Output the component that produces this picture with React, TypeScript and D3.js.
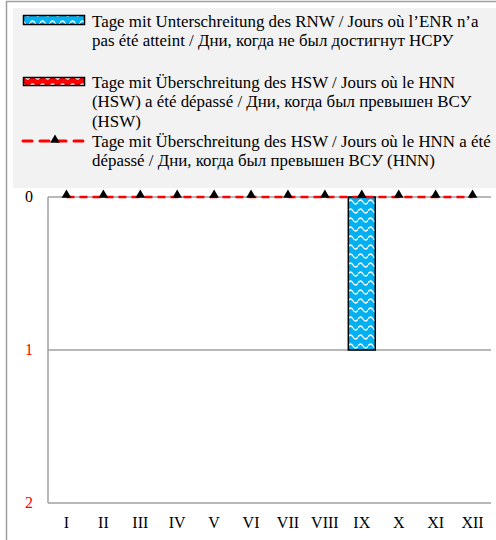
import React, { useEffect, useRef } from 'react';
import * as d3 from 'd3';

const months = ['I', 'II', 'III', 'IV', 'V', 'VI', 'VII', 'VIII', 'IX', 'X', 'XI', 'XII'];
const rnwDays = [0, 0, 0, 0, 0, 0, 0, 0, 1, 0, 0, 0];
const hswDays = [0, 0, 0, 0, 0, 0, 0, 0, 0, 0, 0, 0];
const hnnDays = [0, 0, 0, 0, 0, 0, 0, 0, 0, 0, 0, 0];
const yTicks = [0, 1, 2];
const yTickColors = ['#000', '#ff0000', '#ff0000'];

const legendRnw = ['Tage mit Unterschreitung des RNW / Jours où l’ENR n’a', 'pas été atteint / Дни, когда не был достигнут НСРУ'];
const legendHsw = ['Tage mit Überschreitung des HSW / Jours où le HNN', '(HSW) a été dépassé / Дни, когда был превышен ВСУ', '(HSW)'];
const legendHnn = ['Tage mit Überschreitung des HSW / Jours où le HNN a été', 'dépassé / Дни, когда был превышен ВСУ (HNN)'];

const FONT = 'Liberation Serif';

const App = () => {
  const svgRef = useRef(null);

  useEffect(() => {
    const W = 496;
    const H = 540;
    const margin = { top: 197, right: 5, bottom: 37, left: 48 };
    const width = W - margin.left - margin.right;
    const height = H - margin.top - margin.bottom;

    const svg = d3.select(svgRef.current).attr('width', W).attr('height', H);
    svg.selectAll('*').remove();

    // patterns
    const defs = svg.append('defs');
    const wave = (id, color) => {
      const p = defs.append('pattern').attr('id', id).attr('patternUnits', 'userSpaceOnUse')
        .attr('width', 10).attr('height', 9);
      p.append('rect').attr('width', 10).attr('height', 9).attr('fill', color);
      p.append('path').attr('d', 'M0,5 Q2.5,1 5,5 T10,5').attr('fill', 'none')
        .attr('stroke', '#fff').attr('stroke-width', 1.3);
    };
    wave('waveBlue', '#00b0f0');
    wave('waveRed', '#ff0000');

    // frame (top + left only) + legend background
    svg.append('path').attr('d', `M6.5,${H}V1.5H${W}`).attr('fill', 'none')
      .attr('stroke', '#a0a0a0').attr('stroke-width', 1.5);
    svg.append('rect').attr('x', 13).attr('y', 8).attr('width', W - 13).attr('height', 180)
      .attr('fill', '#f2f2f2');

    // legend
    const lg = svg.append('g');
    const addText = (lines, y0) => {
      lines.forEach((t, i) => {
        lg.append('text').attr('x', 92).attr('y', y0 + i * 19.7)
          .attr('font-family', FONT).attr('font-size', 16.9).attr('fill', '#000').text(t);
      });
    };
    lg.append('rect').attr('x', 23.5).attr('y', 15.5).attr('width', 61).attr('height', 9)
      .attr('fill', 'url(#waveBlue)').attr('stroke', '#000').attr('stroke-width', 1.5);
    addText(legendRnw, 26.5);
    lg.append('rect').attr('x', 23.5).attr('y', 77.5).attr('width', 61).attr('height', 8)
      .attr('fill', 'url(#waveRed)').attr('stroke', '#000').attr('stroke-width', 1.5);
    addText(legendHsw, 87.5);
    lg.append('line').attr('x1', 23).attr('x2', 83).attr('y1', 141).attr('y2', 141)
      .attr('stroke', '#ff0000').attr('stroke-width', 3).attr('stroke-linecap', 'round')
      .attr('stroke-dasharray', '9,8');
    lg.append('path').attr('d', d3.symbol(d3.symbolTriangle, 40)()).attr('transform', 'translate(55,140)')
      .attr('fill', '#000');
    addText(legendHnn, 146.5);

    const g = svg.append('g').attr('transform', `translate(${margin.left},${margin.top})`);

    const x = d3.scaleBand().domain(months).range([0, width]).paddingInner(0.27).paddingOuter(0.135);
    const xc = d3.scalePoint().domain(months).range([0, width]).padding(0.5);
    const y = d3.scaleLinear().domain([0, 2]).range([0, height]);

    // grid
    g.selectAll('.grid').data(yTicks).enter().append('line')
      .attr('x1', 0).attr('x2', width).attr('y1', (d) => y(d)).attr('y2', (d) => y(d))
      .attr('stroke', '#a0a0a0').attr('stroke-width', 1.5);
    g.append('line').attr('x1', 0).attr('x2', 0).attr('y1', 0).attr('y2', height)
      .attr('stroke', '#a0a0a0').attr('stroke-width', 1.5);

    // bars
    const bar = (vals, fill) => {
      vals.forEach((d, i) => {
        if (d > 0) {
          g.append('rect').attr('x', x(months[i])).attr('y', y(0)).attr('width', x.bandwidth())
            .attr('height', y(d) - y(0)).attr('fill', fill).attr('stroke', '#000').attr('stroke-width', 1.5);
        }
      });
    };
    bar(rnwDays, 'url(#waveBlue)');
    bar(hswDays, 'url(#waveRed)');

    // HNN line
    const line = d3.line().x((d, i) => xc(months[i])).y((d) => y(d));
    g.append('path').datum(hnnDays).attr('d', line).attr('fill', 'none')
      .attr('stroke', '#ff0000').attr('stroke-width', 2.5).attr('stroke-dasharray', '8,5');
    g.selectAll('.tri').data(hnnDays).enter().append('path')
      .attr('d', d3.symbol(d3.symbolTriangle, 40)())
      .attr('transform', (d, i) => `translate(${xc(months[i])},${y(d) - 2})`)
      .attr('fill', '#000');

    // axes labels
    g.selectAll('.ytick').data(yTicks).enter().append('text')
      .attr('x', -19).attr('y', (d) => y(d) + 5).attr('text-anchor', 'middle')
      .attr('font-family', FONT).attr('font-size', 16)
      .attr('fill', (d, i) => yTickColors[i]).text((d) => d);
    g.selectAll('.xtick').data(months).enter().append('text')
      .attr('x', (d) => xc(d)).attr('y', height + 25).attr('text-anchor', 'middle')
      .attr('font-family', FONT).attr('font-size', 16).attr('fill', '#000').text((d) => d);
  }, []);

  return <svg ref={svgRef} style={{ position: 'absolute', left: 0, top: 0 }}></svg>;
};

export default App;
